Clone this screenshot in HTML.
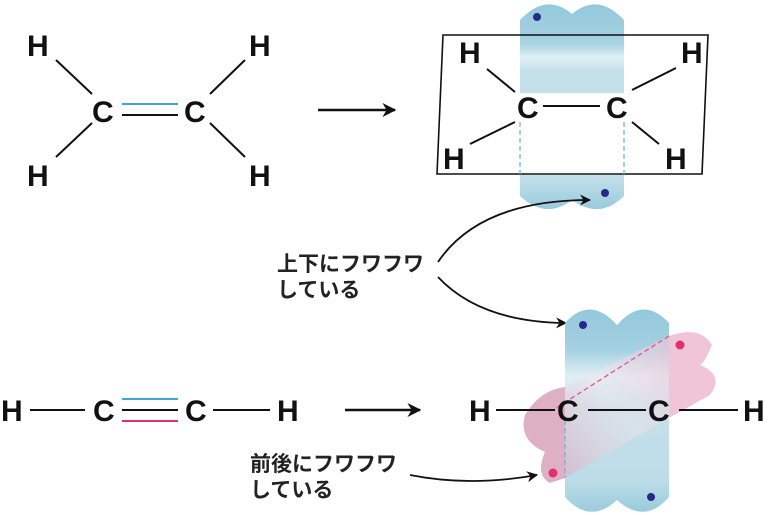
<!DOCTYPE html>
<html><head><meta charset="utf-8"><style>
html,body{margin:0;padding:0;background:#fff;}
svg{display:block;}
text{font-family:"Liberation Sans","Noto Sans CJK JP",sans-serif;}
.a{font-size:30px;font-weight:bold;fill:#111;}
.j{font-size:21px;font-weight:bold;fill:#222;font-family:"Noto Sans CJK JP","Liberation Sans",sans-serif;}
</style></head><body>
<svg width="768" height="515" viewBox="0 0 768 515" xmlns="http://www.w3.org/2000/svg">
<defs>
<linearGradient id="bt" x1="0" y1="0" x2="0" y2="1">
<stop offset="0" stop-color="#93c8dc"/><stop offset="0.45" stop-color="#a8d3e2"/><stop offset="0.6" stop-color="#e0f0f5"/><stop offset="0.75" stop-color="#c4e1eb"/><stop offset="1" stop-color="#c4e0ea"/>
</linearGradient>
<linearGradient id="bb" x1="0" y1="0" x2="0" y2="1">
<stop offset="0" stop-color="#c4e0ea"/><stop offset="1" stop-color="#9acbdd"/>
</linearGradient>
<linearGradient id="bc" x1="0" y1="0" x2="0" y2="1">
<stop offset="0" stop-color="#93c8dc"/><stop offset="0.2" stop-color="#a5d1e1"/><stop offset="0.33" stop-color="#e0eff4"/><stop offset="0.5" stop-color="#c4e0ea"/><stop offset="0.85" stop-color="#bcdce8"/><stop offset="1" stop-color="#9acbdd"/>
</linearGradient>
<linearGradient id="pk" x1="0" y1="1" x2="1" y2="0">
<stop offset="0" stop-color="#dcb0c5"/><stop offset="0.5" stop-color="#f3e6ec" stop-opacity="0.6"/><stop offset="1" stop-color="#efc2d5"/>
</linearGradient>
<marker id="ar" viewBox="0 0 10 10" refX="9" refY="5" markerWidth="11" markerHeight="11" orient="auto" markerUnits="userSpaceOnUse">
<path d="M0,0 L10,5 L0,10 L3,5 z" fill="#111"/></marker>
<marker id="ar2" viewBox="0 0 10 10" refX="9" refY="5" markerWidth="14" markerHeight="14" orient="auto" markerUnits="userSpaceOnUse">
<path d="M0,0 L10,5 L0,10 L3,5 z" fill="#111"/></marker>
</defs>

<g class="a">
<text x="27" y="56">H</text><text x="249" y="56">H</text>
<text x="27" y="186">H</text><text x="249" y="186">H</text>
<text x="92" y="122">C</text><text x="184" y="122">C</text>
</g>
<g stroke="#111" stroke-width="2">
<line x1="56" y1="60" x2="92" y2="94"/><line x1="245" y1="60" x2="210" y2="94"/>
<line x1="56" y1="157" x2="92" y2="123"/><line x1="245" y1="157" x2="210" y2="123"/>
<line x1="122" y1="115" x2="178" y2="115"/>
</g>
<line x1="122" y1="104" x2="178" y2="104" stroke="#3aa7d6" stroke-width="2"/>

<line x1="318" y1="110" x2="395" y2="110" stroke="#111" stroke-width="2.5" marker-end="url(#ar2)"/>
<line x1="345" y1="410" x2="420" y2="410" stroke="#111" stroke-width="2.5" marker-end="url(#ar2)"/>

<path d="M520,20 Q546,-8 572,14 Q598,-8 624,20 L624,93 L520,93 Z" fill="url(#bt)"/>
<path d="M520,175 L624,175 L624,196 Q600,220 572,200 Q546,220 520,196 Z" fill="url(#bb)"/>
<polygon points="443,35 708,35 702,174 437,174" fill="none" stroke="#111" stroke-width="1.6"/>
<g stroke="#6fb5dc" stroke-width="1.3" stroke-dasharray="5,3">
<line x1="520" y1="122" x2="520" y2="174"/><line x1="624" y1="122" x2="624" y2="174"/></g>
<g class="a">
<text x="459" y="63">H</text><text x="681" y="63">H</text>
<text x="443" y="169">H</text><text x="665" y="169">H</text>
<text x="517" y="118">C</text><text x="606" y="118">C</text>
</g>
<g stroke="#111" stroke-width="2">
<line x1="487" y1="69" x2="515" y2="92"/><line x1="676" y1="68" x2="632" y2="90"/>
<line x1="470" y1="144" x2="515" y2="122"/><line x1="632" y1="122" x2="659" y2="144"/>
<line x1="543" y1="106" x2="600" y2="106"/>
</g>
<circle cx="537" cy="17" r="4" fill="#27298a"/>
<circle cx="605" cy="193" r="4" fill="#27298a"/>

<text class="j" x="277" y="271">上下にフワフワ</text>
<text class="j" x="277" y="297">している</text>
<text class="j" x="250" y="471">前後にフワフワ</text>
<text class="j" x="250" y="497">している</text>
<path d="M438,262 Q480,200 590,200" fill="none" stroke="#111" stroke-width="1.8" marker-end="url(#ar)"/>
<path d="M438,277 Q480,322 566,323" fill="none" stroke="#111" stroke-width="1.8" marker-end="url(#ar)"/>
<path d="M410,475 Q470,487 537,475" fill="none" stroke="#111" stroke-width="1.8" marker-end="url(#ar)"/>

<path d="M565,323 Q590,295 617,325 Q643,295 669,323 L669,497 Q645,525 617,500 Q590,525 565,497 Z" fill="url(#bc)"/>
<path d="M669,336 Q700,325 712,345 Q705,362 700,365 Q725,375 710,395 L669,418 Z" fill="#f0c6d7"/>
<path d="M669,336 L669,418 L565,478 L565,387 Z" fill="url(#pk)" opacity="0.7"/>
<path d="M565,387 Q540,390 525,415 Q518,440 545,452 Q535,475 550,483 L565,478 Z" fill="#ddb0c4"/>
<line x1="669" y1="336" x2="553" y2="410" stroke="#e0558f" stroke-width="1.3" stroke-dasharray="5,3"/>
<line x1="565" y1="420" x2="565" y2="478" stroke="#6fb5dc" stroke-width="1.3" stroke-dasharray="5,3"/>
<g class="a">
<text x="469" y="421">H</text><text x="557" y="421">C</text>
<text x="648" y="421">C</text><text x="743" y="421">H</text>
</g>
<g stroke="#111" stroke-width="2">
<line x1="496" y1="410" x2="555" y2="410"/><line x1="588" y1="410" x2="646" y2="410"/><line x1="679" y1="410" x2="738" y2="410"/>
</g>
<circle cx="583" cy="325" r="4" fill="#27298a"/>
<circle cx="651" cy="497" r="4" fill="#27298a"/>
<circle cx="680" cy="345" r="4.5" fill="#e0306f"/>
<circle cx="553" cy="473" r="4.5" fill="#e0306f"/>

<g class="a">
<text x="1" y="421">H</text><text x="93" y="421">C</text>
<text x="185" y="421">C</text><text x="277" y="421">H</text>
</g>
<g stroke="#111" stroke-width="2">
<line x1="30" y1="410" x2="85" y2="410"/><line x1="213" y1="410" x2="270" y2="410"/>
<line x1="122" y1="410" x2="178" y2="410"/>
</g>
<line x1="122" y1="399" x2="178" y2="399" stroke="#3aa7d6" stroke-width="2"/>
<line x1="122" y1="421" x2="178" y2="421" stroke="#e0306f" stroke-width="2"/>
</svg>
</body></html>
